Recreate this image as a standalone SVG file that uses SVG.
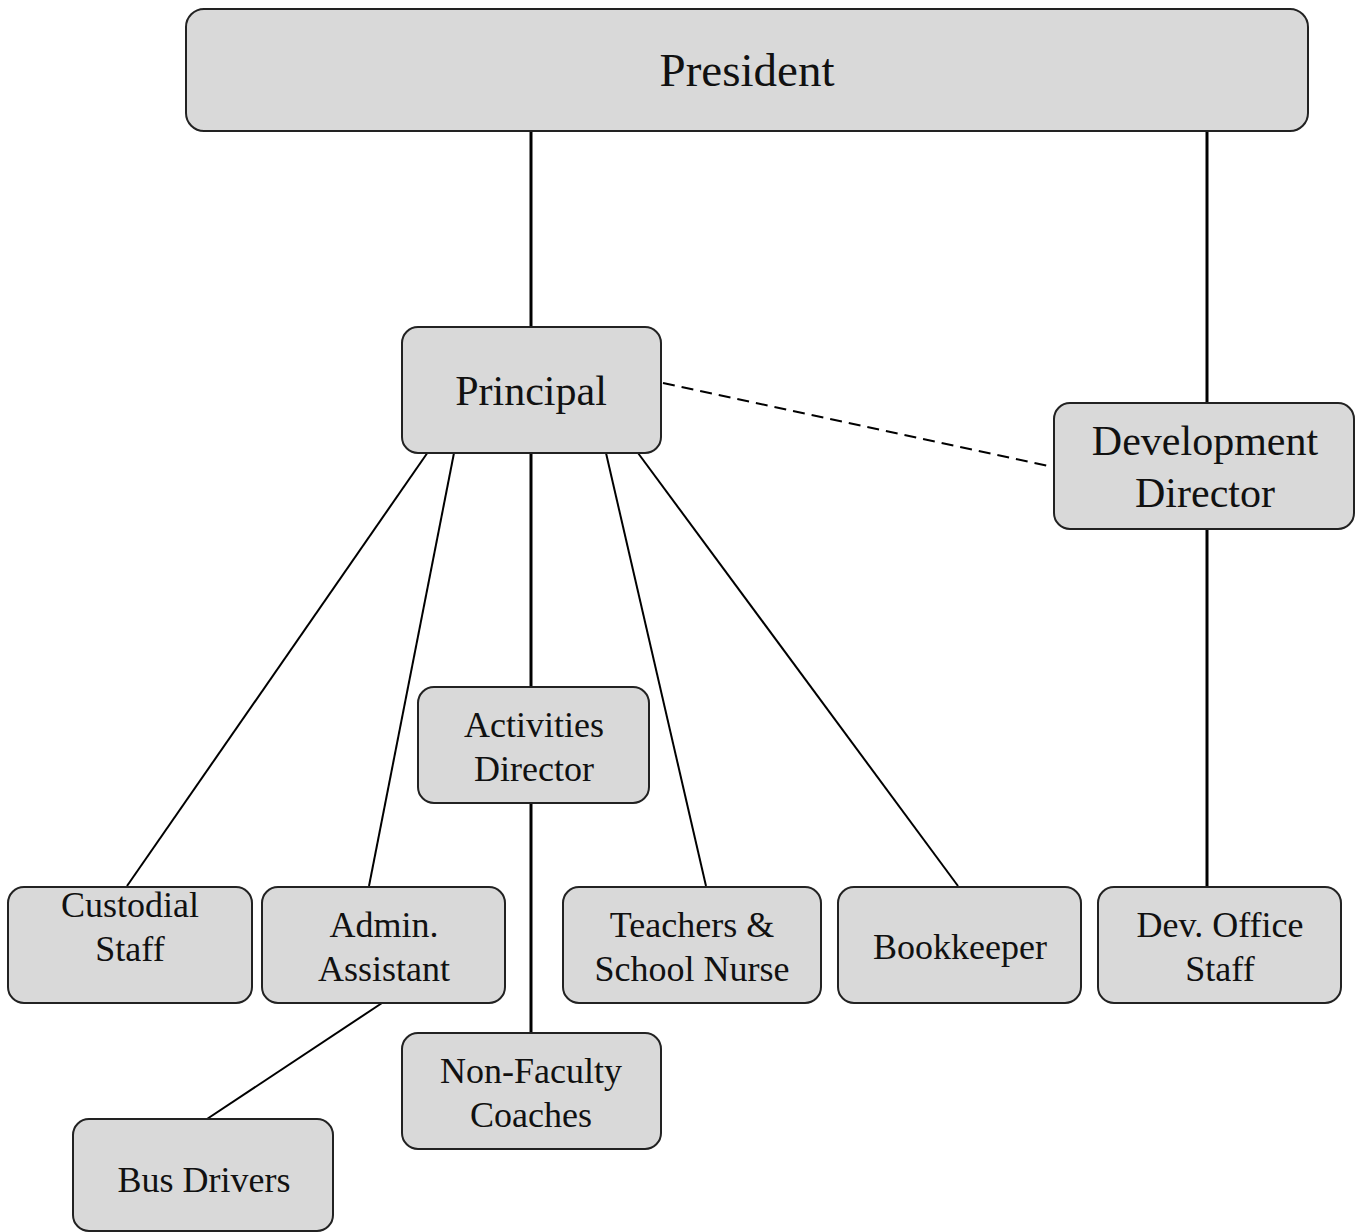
<svg xmlns="http://www.w3.org/2000/svg" width="1356" height="1232" viewBox="0 0 1356 1232">
<style>
.box{fill:#d9d9d9;stroke:#222;stroke-width:2}
.t{font-family:"Liberation Serif",Tinos,"Times New Roman","DejaVu Serif",serif;fill:#111;text-anchor:middle}
.c{stroke:#000;fill:none}
.v{stroke-width:3}
.d{stroke-width:2}
</style>
<rect width="1356" height="1232" fill="#fff"/>
<g id="connectors">
<line class="c v" x1="531" y1="131" x2="531" y2="326"/>
<line class="c v" x1="1207" y1="131" x2="1207" y2="403"/>
<line class="c d" x1="663" y1="383" x2="1053" y2="467" stroke-dasharray="12,7"/>
<line class="c d" x1="428" y1="452" x2="127" y2="886"/>
<line class="c d" x1="454" y1="453" x2="369" y2="886"/>
<line class="c v" x1="531" y1="453" x2="531" y2="687"/>
<line class="c v" x1="531" y1="803" x2="531" y2="1033"/>
<line class="c d" x1="606" y1="453" x2="706" y2="886"/>
<line class="c d" x1="638" y1="453" x2="958" y2="886"/>
<line class="c v" x1="1207" y1="529" x2="1207" y2="886"/>
<line class="c d" x1="382" y1="1003" x2="207" y2="1119"/>
</g>
<g id="president"><rect class="box" x="186" y="9" width="1122" height="122" rx="18"/><text class="t" x="747" y="86" font-size="47">President</text></g>
<g id="principal"><rect class="box" x="402" y="327" width="259" height="126" rx="16"/><text class="t" x="531" y="405" font-size="42">Principal</text></g>
<g id="development-director"><rect class="box" x="1054" y="403" width="300" height="126" rx="16"/><text class="t" x="1205" y="455" font-size="42">Development</text><text class="t" x="1205" y="507" font-size="42">Director</text></g>
<g id="activities-director"><rect class="box" x="418" y="687" width="231" height="116" rx="16"/><text class="t" x="534" y="737" font-size="36">Activities</text><text class="t" x="534" y="781" font-size="36">Director</text></g>
<g id="custodial-staff"><rect class="box" x="8" y="887" width="244" height="116" rx="16"/><text class="t" x="130" y="917" font-size="36">Custodial</text><text class="t" x="130" y="961" font-size="36">Staff</text></g>
<g id="admin-assistant"><rect class="box" x="262" y="887" width="243" height="116" rx="16"/><text class="t" x="384" y="937" font-size="36">Admin.</text><text class="t" x="384" y="981" font-size="36">Assistant</text></g>
<g id="teachers"><rect class="box" x="563" y="887" width="258" height="116" rx="16"/><text class="t" x="692" y="937" font-size="36">Teachers &amp;</text><text class="t" x="692" y="981" font-size="36">School Nurse</text></g>
<g id="bookkeeper"><rect class="box" x="838" y="887" width="243" height="116" rx="16"/><text class="t" x="960" y="959" font-size="36">Bookkeeper</text></g>
<g id="dev-office-staff"><rect class="box" x="1098" y="887" width="243" height="116" rx="16"/><text class="t" x="1220" y="937" font-size="36">Dev. Office</text><text class="t" x="1220" y="981" font-size="36">Staff</text></g>
<g id="non-faculty-coaches"><rect class="box" x="402" y="1033" width="259" height="116" rx="16"/><text class="t" x="531" y="1083" font-size="36">Non-Faculty</text><text class="t" x="531" y="1127" font-size="36">Coaches</text></g>
<g id="bus-drivers"><rect class="box" x="73" y="1119" width="260" height="112" rx="16"/><text class="t" x="204" y="1192" font-size="36">Bus Drivers</text></g>
</svg>
